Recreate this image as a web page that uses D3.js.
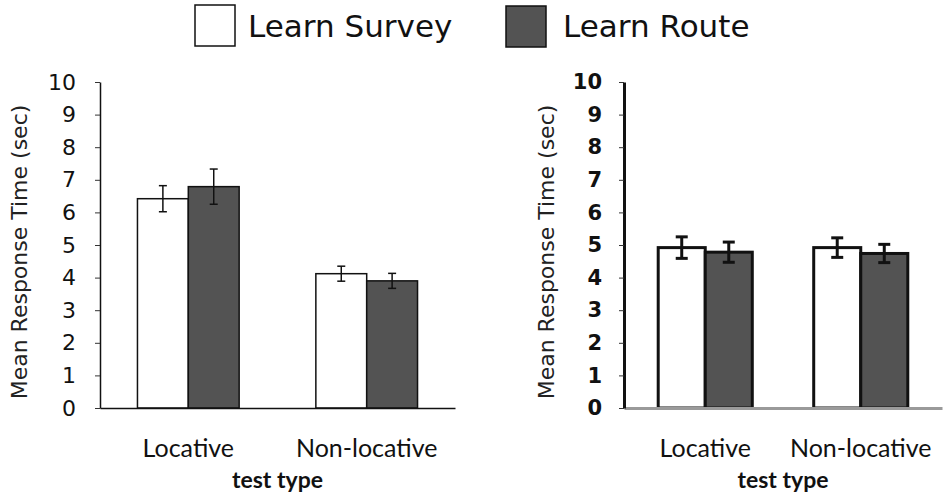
<!DOCTYPE html>
<html>
<head>
<meta charset="utf-8">
<script src="https://cdn.jsdelivr.net/npm/d3@7"></script>
<style>
  body { margin: 0; background: #fff; }
  svg { display: block; }
</style>
</head>
<body>
<div id="chart"></div>
<script>
var width = 951;
var height = 500;

var categories = ["Locative", "Non-locative"];
var seriesNames = ["Learn Survey", "Learn Route"];
var yTicks = [0, 1, 2, 3, 4, 5, 6, 7, 8, 9, 10];

// left panel
var leftSurveyMean = [6.42, 4.12];
var leftSurveyErr = [0.40, 0.23];
var leftRouteMean = [6.79, 3.90];
var leftRouteErr = [0.54, 0.23];

// right panel
var rightSurveyMean = [4.92, 4.92];
var rightSurveyErr = [0.33, 0.30];
var rightRouteMean = [4.78, 4.74];
var rightRouteErr = [0.31, 0.28];

var darkFill = "#535353";

var svg = d3.select("#chart")
    .append("svg")
    .attr("width", width)
    .attr("height", height);

// legend
var legendItems = [
    {name: seriesNames[0], fill: "white", bx: 195, by: 5, tx: 248},
    {name: seriesNames[1], fill: darkFill, bx: 506, by: 6, tx: 563}
];
legendItems.forEach(function(d) {
    svg.append("rect")
        .attr("x", d.bx)
        .attr("y", d.by)
        .attr("width", 40)
        .attr("height", 41)
        .attr("fill", d.fill)
        .attr("stroke", "#111")
        .attr("stroke-width", 1.5);
    svg.append("text")
        .attr("x", d.tx)
        .attr("y", 37)
        .text(d.name)
        .style("font-family", "DejaVu Sans, Verdana, sans-serif")
        .style("font-size", "31px")
        .attr("fill", "#111");
});

function drawPanel(p) {
    var rows = categories.map(function(c, i) {
        return {
            cat: c,
            vals: [
                {s: seriesNames[0], m: p.survey[i], e: p.surveyErr[i]},
                {s: seriesNames[1], m: p.route[i], e: p.routeErr[i]}
            ]
        };
    });

    var x = d3.scaleBand()
        .domain(categories)
        .range([p.x0, p.x1])
        .paddingInner(p.padIn)
        .paddingOuter(p.padOut);

    var xs = d3.scaleBand()
        .domain(seriesNames)
        .range([0, x.bandwidth()]);

    var y = d3.scaleLinear()
        .domain([0, 10])
        .range([408, 82]);

    var g = svg.append("g");

    // bars
    var groups = g.selectAll(".grp")
        .data(rows)
        .enter().append("g")
        .attr("transform", function(d) { return "translate(" + x(d.cat) + ",0)"; });

    groups.selectAll("rect")
        .data(function(d) { return d.vals; })
        .enter().append("rect")
        .attr("x", function(d) { return xs(d.s); })
        .attr("y", function(d) { return y(d.m); })
        .attr("width", xs.bandwidth())
        .attr("height", function(d) { return y(0) - y(d.m); })
        .attr("fill", function(d, i) { return i == 0 ? "white" : darkFill; })
        .attr("stroke", "#111")
        .attr("stroke-width", p.barStroke);

    // error bars
    var eb = groups.selectAll(".err")
        .data(function(d) { return d.vals; })
        .enter().append("g")
        .attr("stroke", "#111")
        .attr("stroke-width", p.errStroke);
    eb.append("line")
        .attr("x1", function(d) { return xs(d.s) + xs.bandwidth() / 2; })
        .attr("x2", function(d) { return xs(d.s) + xs.bandwidth() / 2; })
        .attr("y1", function(d) { return y(d.m + d.e); })
        .attr("y2", function(d) { return y(d.m - d.e); });
    eb.append("line")
        .attr("x1", function(d) { return xs(d.s) + xs.bandwidth() / 2 - p.cap; })
        .attr("x2", function(d) { return xs(d.s) + xs.bandwidth() / 2 + p.cap; })
        .attr("y1", function(d) { return y(d.m + d.e); })
        .attr("y2", function(d) { return y(d.m + d.e); });
    eb.append("line")
        .attr("x1", function(d) { return xs(d.s) + xs.bandwidth() / 2 - p.cap; })
        .attr("x2", function(d) { return xs(d.s) + xs.bandwidth() / 2 + p.cap; })
        .attr("y1", function(d) { return y(d.m - d.e); })
        .attr("y2", function(d) { return y(d.m - d.e); });

    // x axis
    var xAxis = g.append("g")
        .attr("transform", "translate(0," + y(0) + ")")
        .call(d3.axisBottom(x).tickSize(0).tickSizeOuter(0).tickPadding(31));
    xAxis.select(".domain")
        .attr("stroke", p.xAxisColor)
        .attr("stroke-width", p.xAxisStroke);
    xAxis.selectAll("text")
        .attr("fill", "#111")
        .style("font-family", "Lato, Carlito, sans-serif")
        .style("font-size", "25px");

    // y axis
    var yAxis = g.append("g")
        .attr("transform", "translate(" + p.x0 + ",0)")
        .call(d3.axisLeft(y).tickValues(yTicks).tickFormat(d3.format("d"))
            .tickSize(5).tickSizeOuter(0).tickPadding(p.tickPad));
    yAxis.select(".domain")
        .attr("stroke", "#111")
        .attr("stroke-width", p.yAxisStroke);
    yAxis.selectAll(".tick line")
        .attr("stroke", "#333")
        .attr("stroke-width", 1);
    yAxis.selectAll("text")
        .attr("fill", "#111")
        .style("font-family", "DejaVu Sans, Verdana, sans-serif")
        .style("font-weight", p.tickWeight)
        .style("font-size", p.tickSize);

    // axis titles
    g.append("text")
        .attr("transform", "translate(" + p.titleX + ",252) rotate(-90)")
        .style("text-anchor", "middle")
        .text("Mean Response Time (sec)")
        .attr("fill", "#222")
        .style("font-family", "DejaVu Sans, Verdana, sans-serif")
        .style("font-size", "22px");

    g.append("text")
        .attr("x", (p.x0 + p.x1) / 2)
        .attr("y", 488)
        .style("text-anchor", "middle")
        .text("test type")
        .attr("fill", "#111")
        .style("font-family", "Lato, Carlito, sans-serif")
        .style("font-weight", "bold")
        .style("font-size", "23px");
}

drawPanel({
    x0: 100, x1: 455, padIn: 0.43, padOut: 0.21,
    survey: leftSurveyMean, surveyErr: leftSurveyErr,
    route: leftRouteMean, routeErr: leftRouteErr,
    barStroke: 1.5, errStroke: 1.5, cap: 4,
    xAxisColor: "#111", xAxisStroke: 1.5, yAxisStroke: 1.5,
    tickPad: 19, tickWeight: "normal", tickSize: "22px", titleX: 27
});

drawPanel({
    x0: 624, x1: 942, padIn: 0.395, padOut: 0.22,
    survey: rightSurveyMean, surveyErr: rightSurveyErr,
    route: rightRouteMean, routeErr: rightRouteErr,
    barStroke: 3, errStroke: 3, cap: 6,
    xAxisColor: "#9a9a9a", xAxisStroke: 3, yAxisStroke: 3,
    tickPad: 17, tickWeight: "bold", tickSize: "21px", titleX: 554
});
</script>
</body>
</html>
